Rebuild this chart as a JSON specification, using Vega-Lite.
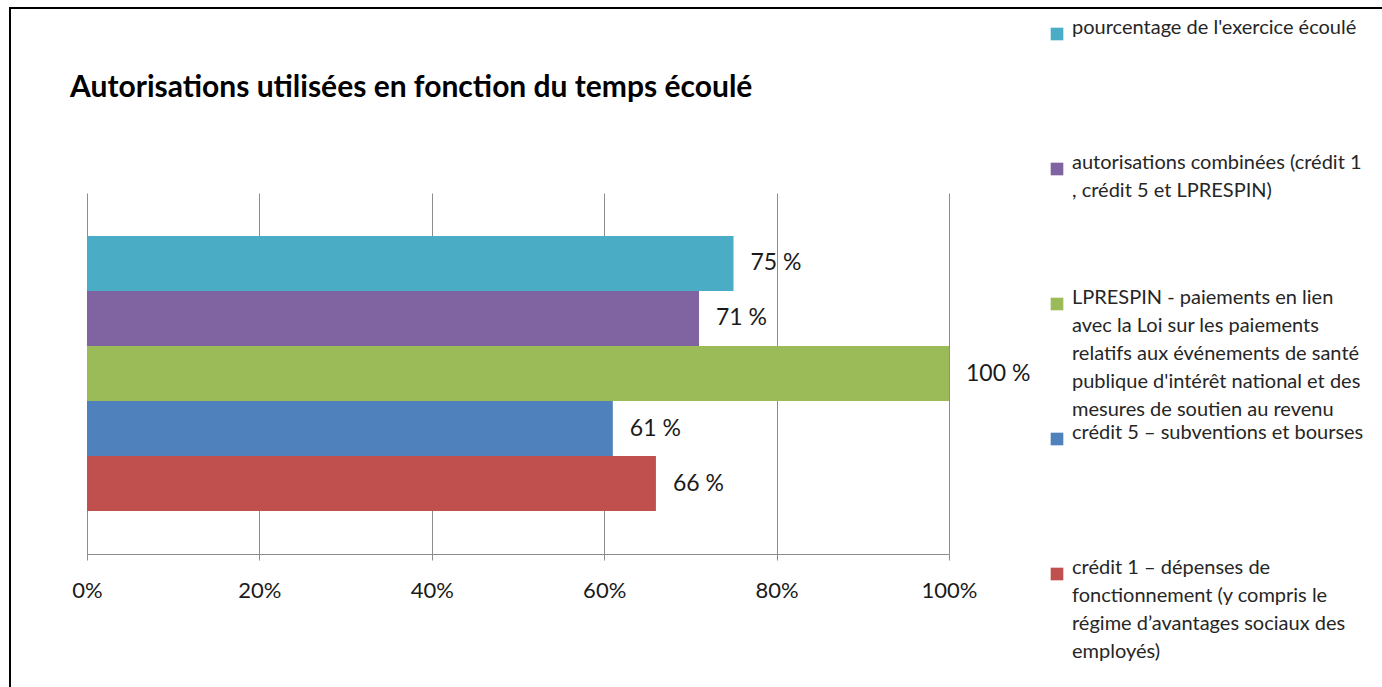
{
  "$schema": "https://vega.github.io/schema/vega-lite/v6.json",
  "autosize": {"type": "none"},
  "width": 1390,
  "height": 731,
  "padding": {"left": 10, "top": 8, "right": 0, "bottom": 0},
  "background": "white",
  "title": {
    "text": "Autorisations utilisées en fonction du temps écoulé",
    "anchor": "start",
    "frame": "group",
    "font": "Lato",
    "fontSize": 30,
    "fontWeight": "bold",
    "color": "#000000",
    "baseline": "alphabetic",
    "offset": 0,
    "dx": 60,
    "dy": 119
  },
  "data": {
    "values": [
      {"serie": "pourcentage de l'exercice écoulé", "valeur": 0.75},
      {"serie": "autorisations combinées (crédit 1, crédit 5 et LPRESPIN)", "valeur": 0.71},
      {"serie": "LPRESPIN - paiements en lien avec la Loi sur les paiements relatifs aux événements de santé publique d'intérêt national et des mesures de soutien au revenu", "valeur": 1.0},
      {"serie": "crédit 5 – subventions et bourses", "valeur": 0.61},
      {"serie": "crédit 1 – dépenses de fonctionnement (y compris le régime d’avantages sociaux des employés)", "valeur": 0.66}
    ]
  },
  "encoding": {
    "y": {
      "field": "serie",
      "type": "nominal",
      "sort": null,
      "scale": {"range": [185, 546], "paddingInner": 0, "paddingOuter": 0.78},
      "axis": null
    },
    "x": {
      "field": "valeur",
      "type": "quantitative",
      "scale": {"domain": [0, 1], "range": [77, 939], "nice": false},
      "axis": {
        "title": null,
        "values": [0, 0.2, 0.4, 0.6, 0.8, 1],
        "labelExpr": "round(datum.value*100) + '%'",
        "labelFlush": false,
        "offset": -185,
        "grid": true,
        "gridColor": "#8c8c8c",
        "gridWidth": 1,
        "domainColor": "#8c8c8c",
        "tickColor": "#8c8c8c",
        "tickSize": 6,
        "labelFont": "Lato",
        "labelFontSize": 22,
        "labelColor": "#1a1a1a",
        "labelPadding": 20
      }
    }
  },
  "layer": [
    {
      "mark": {"type": "bar"},
      "encoding": {
        "color": {
          "field": "serie",
          "type": "nominal",
          "scale": {
            "domain": [
              "pourcentage de l'exercice écoulé",
              "autorisations combinées (crédit 1, crédit 5 et LPRESPIN)",
              "LPRESPIN - paiements en lien avec la Loi sur les paiements relatifs aux événements de santé publique d'intérêt national et des mesures de soutien au revenu",
              "crédit 5 – subventions et bourses",
              "crédit 1 – dépenses de fonctionnement (y compris le régime d’avantages sociaux des employés)"
            ],
            "range": ["#4BACC6", "#8064A2", "#9BBB59", "#4F81BD", "#C0504D"]
          },
          "legend": {
            "orient": "none",
            "legendX": 1037,
            "legendY": 16,
            "title": null,
            "padding": 0,
            "symbolType": "square",
            "symbolSize": 160,
            "symbolStrokeWidth": 0,
            "symbolOpacity": 1,
            "labelFont": "Lato",
            "labelFontSize": 20,
            "labelBaseline": "alphabetic",
            "labelOffset": 5,
            "labelLimit": 500,
            "labelColor": "#262626",
            "rowPadding": 3,
            "gridAlign": "all",
            "labelExpr": "substring(datum.label, 0, 8) == 'autorisa' ? ['autorisations combinées (crédit 1', ', crédit 5 et LPRESPIN)'] : substring(datum.label, 0, 8) == 'LPRESPIN' ? ['LPRESPIN - paiements en lien', 'avec la Loi sur les paiements', 'relatifs aux événements de santé', \"publique d'intérêt national et des\", 'mesures de soutien au revenu'] : substring(datum.label, 0, 8) == 'crédit 1' ? ['crédit 1 – dépenses de', 'fonctionnement (y compris le', 'régime d’avantages sociaux des', 'employés)'] : datum.label"
          }
        }
      }
    },
    {
      "mark": {"type": "text", "align": "left", "baseline": "middle", "dx": 17, "font": "Lato", "fontSize": 23, "color": "#1a1a1a"},
      "encoding": {
        "text": {"field": "valeur", "type": "quantitative", "format": ".0%"}
      }
    }
  ],
  "config": {
    "view": {"stroke": "#000000", "strokeWidth": 2},
    "style": {"guide-label": {"lineHeight": 28}},
    "locale": {
      "number": {"decimal": ",", "thousands": " ", "grouping": [3], "currency": ["", " €"], "percent": " %"}
    }
  }
}
